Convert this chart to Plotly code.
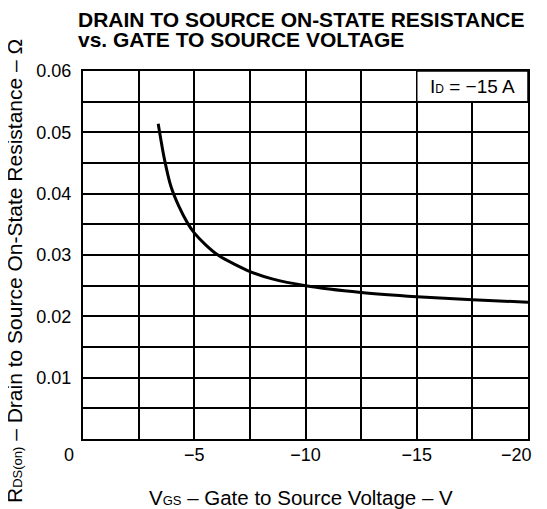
import plotly.graph_objects as go

# V_GS (V) and R_DS(on) (ohm)
vgs = [-3.38, -3.65, -3.95, -4.3, -4.7, -5.0, -5.5, -6.1, -7.5, -8.5, -10.0, -12.5, -15.0, -17.5, -20.0]
rds = [0.0514, 0.0458, 0.0412, 0.0380, 0.0352, 0.0336, 0.0317, 0.0299, 0.0273, 0.0261, 0.0250, 0.0239, 0.0232, 0.0227, 0.0223]

x_ticks = [-5, -10, -15, -20]
# last label padded so it sits inside the frame like the datasheet
x_labels = ["\u22125", "\u221210", "\u221215", "\u221220\u2007\u2007\u2009"]
y_ticks = [0.01, 0.02, 0.03, 0.04, 0.05, 0.06]
y_labels = ["0.01", "0.02", "0.03", "0.04", "0.05", "0.06"]

FONT = "Liberation Sans, Arial, sans-serif"
OFF = 8  # page body margin
FW, FH = 539, 501
L, R, T, B = 75, 19, 63, 70
W, H = FW - L - R, FH - T - B


def px(x, y):
    # page pixels -> paper fractions
    return (x - OFF - L) / W, (FH - B - (y - OFF)) / H


fig = go.Figure()
fig.add_trace(go.Scatter(x=vgs, y=rds, mode="lines",
                         line=dict(color="black", width=3, shape="spline", smoothing=0.8),
                         showlegend=False, hoverinfo="skip"))

axis = dict(ticks="", showgrid=True, gridcolor="black", gridwidth=1.5,
            showline=True, linecolor="black", linewidth=2, mirror=True, zeroline=False,
            tickfont=dict(size=18, color="black", family=FONT))
fig.update_xaxes(range=[0, -20], tickvals=x_ticks, ticktext=x_labels, ticklabelstandoff=-2,
                 ticklabeloverflow="allow",
                 minor=dict(dtick=2.5, tick0=0, showgrid=True, gridcolor="black", gridwidth=1.5), **axis)
fig.update_yaxes(range=[0, 0.06], tickvals=y_ticks, ticktext=y_labels, ticklabelstandoff=6,
                 minor=dict(dtick=0.005, tick0=0, showgrid=True, gridcolor="black", gridwidth=1.5), **axis)

# condition box in the top-right cell
fig.add_shape(type="rect", x0=-15, x1=-20, y0=0.055, y1=0.06, xref="x", yref="y",
              fillcolor="white", line=dict(color="black", width=1.5), layer="above")
fig.add_annotation(x=-17.5, y=0.0575, xref="x", yref="y", showarrow=False,
                   text="I<span style='font-size:12px'>D</span> = \u221215 A",
                   font=dict(size=19, color="black", family=FONT))


def note(x, y, text, size=19, xanchor="center", **kw):
    fx, fy = px(x, y)
    fig.add_annotation(x=fx, y=fy, xref="paper", yref="paper", showarrow=False, text=text,
                       xanchor=xanchor, yanchor="middle",
                       font=dict(size=size, color="black", family=FONT), **kw)


note(69, 455, "0", size=18)
note(76, 19.5, "<b>DRAIN TO SOURCE ON-STATE RESISTANCE</b>", size=21, xanchor="left")
note(76, 39, "<b>vs. GATE TO SOURCE VOLTAGE</b>", size=21, xanchor="left")
note(301, 497, "V<span style='font-size:13px'>GS</span> \u2013 Gate to Source Voltage \u2013 V", size=20.5)
note(14, 271, "R<span style='font-size:13px'>DS(on)</span> \u2013 Drain to Source On-State Resistance \u2013 \u03a9",
     size=21, textangle=-90)

fig.update_layout(
    width=FW, height=FH,
    margin=dict(l=L, r=R, t=T, b=B, autoexpand=False),
    paper_bgcolor="white", plot_bgcolor="white",
    font=dict(family=FONT, color="black"),
)

fig.write_html("out.html")
